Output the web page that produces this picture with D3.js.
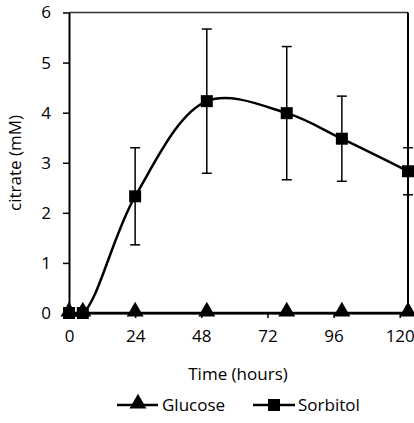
<!DOCTYPE html>
<html><head><meta charset="utf-8">
<script src="https://cdn.jsdelivr.net/npm/d3@7"></script>
<style>body{margin:0;background:#fff}svg{display:block}text{font-family:"Open Sans",sans-serif;fill:#000}</style>
</head><body><div id="c"></div>
<script>
const times = [0, 5, 24, 50, 79, 99, 123];
const glucose = [0, 0, 0, 0, 0, 0, 0];
const sorbitol = [0, 0, 2.33, 4.23, 3.99, 3.48, 2.83];
const sorbitolErr = [0, 0, 0.97, 1.44, 1.33, 0.85, 0.47];
const xTicks = [0, 24, 48, 72, 96, 120];
const yTicks = [0, 1, 2, 3, 4, 5, 6];
const seriesNames = ["Glucose", "Sorbitol"];

const FS = 17;
const W = 414, H = 423;
const svg = d3.select("#c").append("svg").attr("width", W).attr("height", H);
const x = d3.scaleLinear().domain([0, 123]).range([69, 408]);
const y = d3.scaleLinear().domain([0, 6]).range([313, 12.5]);

// frame (top + right)
svg.append("line").attr("x1", x(0)).attr("x2", x(123)).attr("y1", y(6)).attr("y2", y(6)).attr("stroke", "#333").attr("stroke-width", 1.3);
svg.append("line").attr("x1", x(123)).attr("x2", x(123)).attr("y1", y(6)).attr("y2", y(0)).attr("stroke", "#000").attr("stroke-width", 2);

const xAxis = svg.append("g").attr("transform", `translate(0,${y(0)})`)
  .call(d3.axisBottom(x).tickValues(xTicks).tickFormat(d3.format("d")).tickSize(5).tickPadding(12).tickSizeOuter(0));
const yAxis = svg.append("g").attr("transform", `translate(${x(0)},0)`)
  .call(d3.axisLeft(y).tickValues(yTicks).tickFormat(d3.format("d")).tickSize(6).tickPadding(12).tickSizeOuter(0));
[xAxis, yAxis].forEach(g => {
  g.select(".domain").attr("stroke", "#000").attr("stroke-width", 2);
  g.selectAll(".tick line").attr("stroke", "#000").attr("stroke-width", 1.5);
  g.selectAll("text").attr("font-size", FS).attr("font-family", "'Open Sans',sans-serif");
});

svg.append("text").attr("x", 238).attr("y", 380).attr("text-anchor", "middle").attr("font-size", FS).text("Time (hours)");
svg.append("text").attr("transform", "translate(21,163) rotate(-90)").attr("text-anchor", "middle").attr("font-size", FS).text("citrate (mM)");

const line = d3.line().x(d => x(d[0])).y(d => y(d[1])).curve(d3.curveCatmullRom.alpha(0.5));
const tri = d3.symbol().type(d3.symbolTriangle).size(125);
const S = 12;

// Glucose
const gData = times.map((t, i) => [t, glucose[i]]);
svg.append("path").attr("d", line(gData)).attr("fill", "none").attr("stroke", "#000").attr("stroke-width", 2.5);
svg.selectAll(".gm").data(gData).enter().append("path").attr("d", tri)
  .attr("transform", d => `translate(${x(d[0])},${y(d[1]) - 1.5})`).attr("fill", "#000");

// Sorbitol
const sData = times.map((t, i) => [t, sorbitol[i], sorbitolErr[i]]);
svg.append("path").attr("d", line(sData)).attr("fill", "none").attr("stroke", "#000").attr("stroke-width", 2.5);
const eb = svg.selectAll(".eb").data(sData.filter(d => d[2] > 0)).enter().append("g");
eb.append("line").attr("x1", d => x(d[0])).attr("x2", d => x(d[0])).attr("y1", d => y(d[1] - d[2])).attr("y2", d => y(d[1] + d[2])).attr("stroke", "#000").attr("stroke-width", 1.5);
eb.append("line").attr("x1", d => x(d[0]) - 5).attr("x2", d => x(d[0]) + 5).attr("y1", d => y(d[1] - d[2])).attr("y2", d => y(d[1] - d[2])).attr("stroke", "#000").attr("stroke-width", 1.5);
eb.append("line").attr("x1", d => x(d[0]) - 5).attr("x2", d => x(d[0]) + 5).attr("y1", d => y(d[1] + d[2])).attr("y2", d => y(d[1] + d[2])).attr("stroke", "#000").attr("stroke-width", 1.5);
svg.selectAll(".sm").data(sData).enter().append("rect")
  .attr("x", d => x(d[0]) - S / 2).attr("y", d => y(d[1]) - S / 2).attr("width", S).attr("height", S).attr("fill", "#000");

// Legend
const ly = 405;
svg.append("line").attr("x1", 117).attr("x2", 158).attr("y1", ly).attr("y2", ly).attr("stroke", "#000").attr("stroke-width", 2.5);
svg.append("path").attr("d", tri).attr("transform", `translate(138,${ly - 1.5})`).attr("fill", "#000");
svg.append("text").attr("x", 162).attr("y", ly + 6).attr("font-size", FS).text(seriesNames[0]);
svg.append("line").attr("x1", 253).attr("x2", 295).attr("y1", ly).attr("y2", ly).attr("stroke", "#000").attr("stroke-width", 2.5);
svg.append("rect").attr("x", 274 - S / 2).attr("y", ly - S / 2).attr("width", S).attr("height", S).attr("fill", "#000");
svg.append("text").attr("x", 298).attr("y", ly + 6).attr("font-size", FS).text(seriesNames[1]);
</script></body></html>
